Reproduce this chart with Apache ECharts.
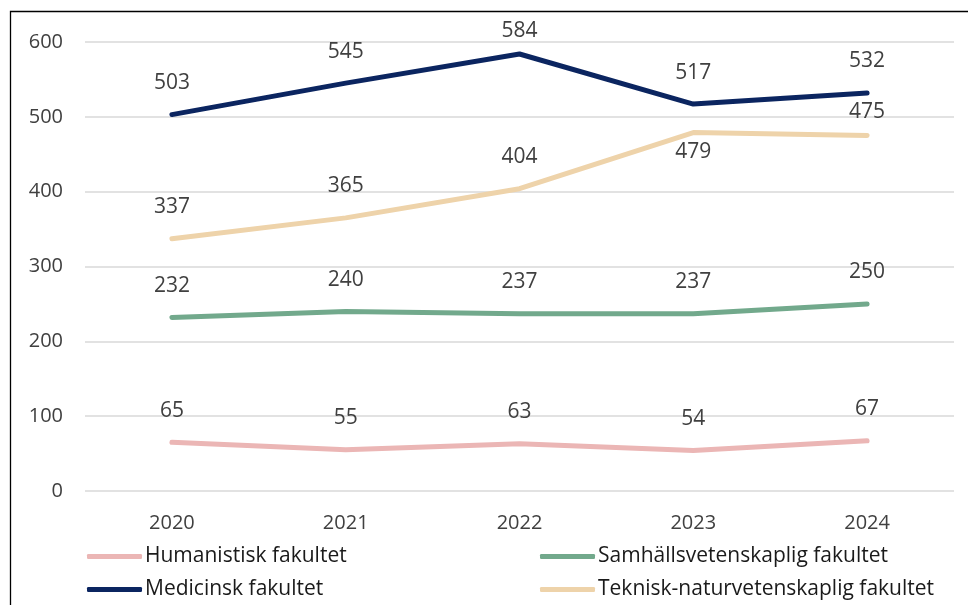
<!DOCTYPE html>
<html>
<head>
<meta charset="utf-8">
<script src="https://cdn.jsdelivr.net/npm/echarts@6/dist/echarts.min.js"></script>
<style>
  html, body { margin: 0; padding: 0; background: #fff; }
  #chart { width: 968px; height: 605px; }
</style>
</head>
<body>
<div id="chart"></div>
<script>
var years = ['2020', '2021', '2022', '2023', '2024'];
var seriesNames = ['Humanistisk fakultet', 'Samhällsvetenskaplig fakultet', 'Medicinsk fakultet', 'Teknisk-naturvetenskaplig fakultet'];
var humanistisk = [65, 55, 63, 54, 67];
var samhalls = [232, 240, 237, 237, 250];
var medicinsk = [503, 545, 584, 517, 532];
var teknisk = [337, 365, 404, 479, 475];
var yTicks = [0, 100, 200, 300, 400, 500, 600];

var colors = ['#ebb6b5', '#72a98c', '#0b2560', '#eed3aa'];
var font = '"Open Sans", "Liberation Sans", Arial, sans-serif';
var textColor = '#404040';

function labelFor(name, i) {
    // a few labels sit closer or below the line, as in the reference
    if (name === 'Medicinsk fakultet' && i === 2) return { distance: 12 };
    if (name === 'Teknisk-naturvetenskaplig fakultet' && i === 4) return { distance: 13 };
    if (name === 'Teknisk-naturvetenskaplig fakultet' && i === 3) return { position: 'bottom', distance: 9 };
    return null;
}

function makeSeries(name, values, color) {
    return {
        name: name,
        type: 'line',
        data: values.map(function (v, i) {
            var l = labelFor(name, i);
            return l ? { value: v, label: l } : v;
        }),
        symbol: 'circle',
        symbolSize: 0,
        showSymbol: true,
        smooth: false,
        lineStyle: { color: color, width: 5, cap: 'round' },
        itemStyle: { color: color },
        label: {
            show: true, position: 'top', distance: 21,
            color: textColor, fontSize: 21, fontFamily: font
        },
        labelLayout: { hideOverlap: false },
        z: 3
    };
}

var legendPos = [[87, 546], [540, 546], [87, 579], [540, 579]];

var chart = echarts.init(document.getElementById('chart'), null, { renderer: 'canvas' });
chart.setOption({
    backgroundColor: '#fff',
    animation: false,
    graphic: [{
        type: 'rect',
        shape: { x: 10.5, y: 11.5, width: 980, height: 620 },
        style: { fill: 'none', stroke: '#000', lineWidth: 1.3 },
        silent: true
    }],
    grid: { left: 85, right: 14, top: 42, bottom: 114 },
    legend: seriesNames.map(function (n, i) {
        return {
            data: [n],
            left: legendPos[i][0], top: legendPos[i][1],
            padding: 0,
            itemWidth: 55, itemHeight: 5, itemGap: 4,
            icon: 'roundRect',
            textStyle: { color: '#1a1a1a', fontSize: 21, fontFamily: font, padding: [0, 0, 0, -2] },
            selectedMode: false
        };
    }),
    xAxis: {
        type: 'category',
        data: years,
        boundaryGap: true,
        axisLine: { show: false },
        axisTick: { show: false },
        axisLabel: { color: textColor, fontSize: 20, fontFamily: font, margin: 22 }
    },
    yAxis: {
        type: 'value',
        min: yTicks[0], max: yTicks[yTicks.length - 1], interval: 100,
        axisLine: { show: false },
        axisTick: { show: false },
        axisLabel: { color: textColor, fontSize: 20, fontFamily: font, margin: 22 },
        splitLine: { lineStyle: { color: '#d9d9d9', width: 1.5 } }
    },
    series: [
        makeSeries(seriesNames[0], humanistisk, colors[0]),
        makeSeries(seriesNames[1], samhalls, colors[1]),
        makeSeries(seriesNames[2], medicinsk, colors[2]),
        makeSeries(seriesNames[3], teknisk, colors[3])
    ]
});
</script>
</body>
</html>
